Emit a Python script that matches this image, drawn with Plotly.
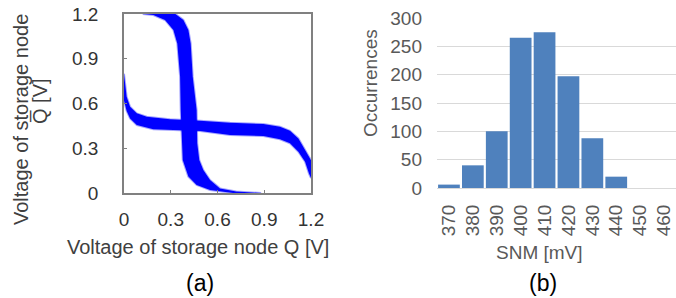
import plotly.graph_objects as go

# ---- Panel (a): butterfly curves (Monte Carlo band boundaries)
c1_upper_x = [0.0, 0.006, 0.017, 0.039, 0.082, 0.146, 0.295, 0.488, 0.68, 0.894, 1.001, 1.065, 1.119, 1.162, 1.2]
c1_upper_y = [0.80, 0.757, 0.645, 0.578, 0.534, 0.511, 0.494, 0.485, 0.471, 0.462, 0.444, 0.417, 0.366, 0.288, 0.22]
c1_lower_x = [0.0, 0.017, 0.039, 0.082, 0.188, 0.488, 0.68, 0.894, 1.001, 1.065, 1.119, 1.162, 1.187, 1.2]
c1_lower_y = [0.62, 0.55, 0.50, 0.456, 0.427, 0.415, 0.389, 0.382, 0.36, 0.333, 0.277, 0.21, 0.13, 0.10]

c2_left_y = [1.2, 1.193, 1.16, 1.093, 1.003, 0.78, 0.556, 0.333, 0.221, 0.11, 0.054, 0.02, 0.0]
c2_left_x = [0.12, 0.188, 0.263, 0.317, 0.342, 0.36, 0.364, 0.37, 0.377, 0.413, 0.466, 0.552, 0.70]
c2_right_y = [1.2, 1.16, 1.093, 1.003, 0.78, 0.556, 0.333, 0.221, 0.154, 0.087, 0.031, 0.01, 0.0]
c2_right_x = [0.33, 0.381, 0.413, 0.428, 0.441, 0.466, 0.47, 0.483, 0.509, 0.552, 0.616, 0.72, 0.88]

volt_ticks = [0, 0.3, 0.6, 0.9, 1.2]
volt_labels = ["0", "0.3", "0.6", "0.9", "1.2"]

# ---- Panel (b): SNM histogram
snm_bins = ["370", "380", "390", "400", "410", "420", "430", "440", "450", "460"]
snm_counts = [6, 40, 100, 265, 275, 197, 88, 20, 0, 0]
count_ticks = [0, 50, 100, 150, 200, 250, 300]

W, H = 676, 298
BLUE = "#0000FF"

fig = go.Figure()

fig.add_trace(go.Scatter(
    x=c1_upper_x + c1_lower_x[::-1],
    y=c1_upper_y + c1_lower_y[::-1],
    fill="toself", fillcolor=BLUE, mode="lines",
    line=dict(color="rgba(0,0,255,0.35)", width=2),
    xaxis="x", yaxis="y", showlegend=False, hoverinfo="skip"))

fig.add_trace(go.Scatter(
    x=c2_left_x + c2_right_x[::-1],
    y=c2_left_y + c2_right_y[::-1],
    fill="toself", fillcolor=BLUE, mode="lines",
    line=dict(color="rgba(0,0,255,0.35)", width=2),
    xaxis="x", yaxis="y", showlegend=False, hoverinfo="skip"))

fig.add_trace(go.Bar(
    x=snm_bins, y=snm_counts, marker=dict(color="#4F81BD", line=dict(width=0)),
    xaxis="x2", yaxis="y2", showlegend=False))

FAM = "Liberation Sans, Arial"
tick_font_a = dict(family=FAM, size=19, color="#333333")
tick_font_b = dict(family=FAM, size=19, color="#595959")
title_font = dict(family=FAM, size=20, color="#404040")

fig.update_layout(
    width=W, height=H,
    margin=dict(l=0, r=0, t=0, b=0),
    paper_bgcolor="white", plot_bgcolor="white",
    bargap=0.09,
    xaxis=dict(domain=[124 / W, 311 / W], range=[0, 1.2], tickvals=volt_ticks, ticktext=volt_labels,
               showgrid=False, zeroline=False, showline=True, linecolor="#808080", linewidth=1.5,
               mirror=True, ticks="inside", ticklen=3, tickcolor="#808080", automargin=False,
               tickfont=tick_font_a, ticklabelstandoff=8, anchor="y"),
    yaxis=dict(domain=[1 - 193 / H, 1 - 14 / H], range=[0, 1.2], tickvals=volt_ticks, ticktext=volt_labels,
               showgrid=False, zeroline=False, showline=True, linecolor="#808080", linewidth=1.5,
               mirror=True, ticks="inside", ticklen=3, tickcolor="#808080", automargin=False,
               tickfont=tick_font_a, ticklabelstandoff=20, anchor="x"),
    xaxis2=dict(domain=[437 / W, 1.0], range=[-0.5, 9.5], type="category",
                showgrid=False, zeroline=False, showline=True, linecolor="#d9d9d9", linewidth=1,
                ticks="", tickangle=-90, tickfont=tick_font_b, ticklabelstandoff=8, anchor="y2",
                automargin=False),
    yaxis2=dict(domain=[1 - 188 / H, 1 - 18 / H], range=[0, 300], tickvals=count_ticks,
                showgrid=True, gridcolor="#d9d9d9", gridwidth=1, zeroline=False, showline=False,
                ticks="", tickfont=tick_font_b, ticklabelstandoff=14, anchor="x2", automargin=False),
)

ann = [
    dict(text="Voltage of storage node Q [V]", x=198 / W, y=1 - 247 / H, font=title_font),
    dict(text="Voltage of storage node", x=21 / W, y=1 - 120 / H, textangle=-90, font=title_font),
    dict(text="Q\u0305 [V]", x=40 / W, y=1 - 101 / H, textangle=-90, font=title_font),
    dict(text="(a)", x=200 / W, y=1 - 283 / H, font=dict(family=FAM, size=23, color="#000000")),
    dict(text="Occurrences", x=370 / W, y=1 - 83 / H, textangle=-90, font=tick_font_b),
    dict(text="SNM [mV]", x=539 / W, y=1 - 252 / H, font=tick_font_b),
    dict(text="(b)", x=543 / W, y=1 - 283 / H, font=dict(family=FAM, size=23, color="#000000")),
]
for a in ann:
    fig.add_annotation(xref="paper", yref="paper", showarrow=False, xanchor="center", yanchor="middle", **a)

fig.write_html("out.html", config={"displayModeBar": False},
               post_script="document.body.style.margin='0';document.body.style.padding='0';"
                           "document.body.style.overflow='hidden';")
